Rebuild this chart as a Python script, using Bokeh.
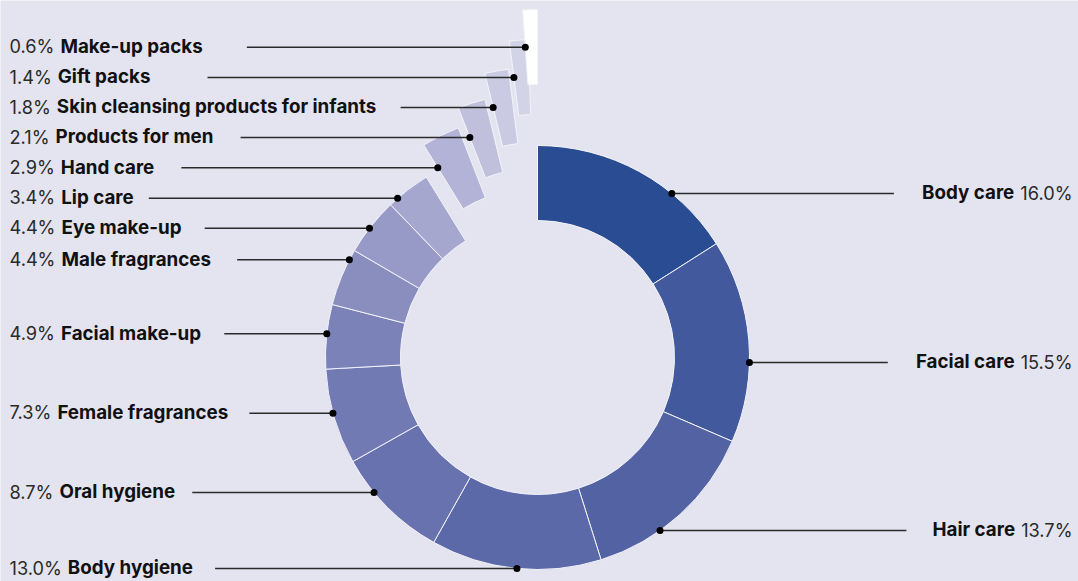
import math
import subprocess
import numpy as np
from bokeh.plotting import figure
from bokeh.models import Range1d, ColumnDataSource
from bokeh.core.properties import value
from bokeh.embed import file_html
from bokeh.resources import INLINE

# ---------------- data ----------------
categories = ["Body care", "Facial care", "Hair care", "Body hygiene", "Oral hygiene",
              "Female fragrances", "Facial make-up", "Male fragrances", "Eye make-up",
              "Lip care", "Hand care", "Products for men",
              "Skin cleansing products for infants", "Gift packs", "Make-up packs"]
shares = [16.0, 15.5, 13.7, 13.0, 8.7, 7.3, 4.9, 4.4, 4.4, 3.4, 2.9, 2.1, 1.8, 1.4, 0.6]
pct_labels = [f"{v:.1f}%" for v in shares]

# ---------------- style / layout (page pixel coordinates) ----------------
colors = ["#2a4c93", "#425a9d", "#5262a2", "#5b69a9", "#6772af", "#717ab3", "#7b82b8",
          "#898ebf", "#9799c6", "#a5a7ce", "#b2b3d6", "#c0c0dd", "#cacae3", "#d3d3e8",
          "#ffffff"]
lift_px = [0] * 10 + [32, 52, 78, 106, 136]          # pulled-out small slices
shift_x_px = [0] * 10 + [-2.5, -2.4, -2.5, -1.6, 0.0]
label_side = ["right"] * 3 + ["left"] * 12
label_line_y = [193, 362, 530, 568, 492, 412.7, 333.3, 259.3, 227.7, 197.7,
                167.3, 137, 107, 77, 46.7]
leader_gap = [28, 28, 26, 22, 17, 21, 23, 26, 23, 15, 27, 27, 24, 57, 44]

W, H = 1078, 581
BG = "#e4e4f0"
CX, CY = 537.0, 357.0      # page pixel coords (y down)
R_OUT, R_IN = 212.0, 137.0
MIN_SPAN = 4.0
FONT = "Inter"
FS_B = 18.8
FS_R = 18.2
LEFT_X = 9.0
RIGHT_X = 1072.0
TEXT_DY = -0.8             # baseline offset from leader line (empirical)


def fx(x):
    return x


def fy(y):
    return H - y


# ---------------- text measuring ----------------
def _font_path(query):
    try:
        out = subprocess.run(["fc-match", "-f", "%{file}", query],
                             capture_output=True, text=True, timeout=5).stdout.strip()
        return out or None
    except Exception:
        return None


def _make_measurer(bold, size):
    try:
        from PIL import ImageFont
        path = _font_path(f"{FONT}:weight={'bold' if bold else 'regular'}")
        f = ImageFont.truetype(path, size=100)
        try:
            axes = f.get_variation_axes()
            vals = []
            for a in axes:
                nm = a.get("name", b"")
                nm = nm.decode() if isinstance(nm, bytes) else str(nm)
                if "eight" in nm:
                    vals.append(700 if bold else 400)
                else:
                    vals.append(a.get("default", a.get("minimum", 0)))
            if vals:
                f.set_variation_by_axes(vals)
        except Exception:
            pass
        return lambda s: f.getlength(s) * size / 100.0
    except Exception:
        k = 0.62 if bold else 0.56
        return lambda s: len(s) * size * k


w_bold = _make_measurer(True, FS_B)
w_reg = _make_measurer(False, FS_R)

# ---------------- geometry ----------------
vals = np.array(shares, dtype=float)
total = vals.sum()
end_deg = np.cumsum(vals) / total * 360.0
start_deg = end_deg - vals / total * 360.0
start_deg = np.minimum(start_deg, end_deg - MIN_SPAN)

wedge_src = ColumnDataSource(dict(
    x=[fx(CX + sx) for sx in shift_x_px],
    y=[fy(CY - lf) for lf in lift_px],
    start=[math.pi / 2 - math.radians(a) for a in start_deg],
    end=[math.pi / 2 - math.radians(a) for a in end_deg],
    color=colors,
    name=categories,
))

dot_x, dot_y = [], []
line_x0, line_x1, line_y = [], [], []
pct_x, pct_align, name_x, name_align, text_y = [], [], [], [], []
for i, cat in enumerate(categories):
    ly = label_line_y[i]
    if lift_px[i] == 0:
        dy = ly - CY
        dx = math.sqrt(max(R_OUT ** 2 - dy ** 2, 0.0))
        px = CX + dx if label_side[i] == "right" else CX - dx
    else:
        th = math.radians(start_deg[i])
        r = (CY - lift_px[i] - ly) / math.cos(th)
        px = CX + shift_x_px[i] + r * math.sin(th)
    dot_x.append(fx(px))
    dot_y.append(fy(ly))
    line_y.append(fy(ly))
    text_y.append(fy(ly + TEXT_DY))
    wp = w_reg(pct_labels[i])
    wn = w_bold(cat)
    if label_side[i] == "left":
        nx0 = LEFT_X + wp + 6.0
        pct_x.append(fx(LEFT_X)); pct_align.append("left")
        name_x.append(fx(nx0)); name_align.append("left")
        line_x0.append(fx(nx0 + wn + leader_gap[i])); line_x1.append(fx(px))
    else:
        nx1 = RIGHT_X - wp - 6.0
        pct_x.append(fx(RIGHT_X)); pct_align.append("right")
        name_x.append(fx(nx1)); name_align.append("right")
        line_x0.append(fx(px)); line_x1.append(fx(nx1 - wn - leader_gap[i]))

# ---------------- figure ----------------
p = figure(width=W, height=H, x_range=Range1d(0, W), y_range=Range1d(0, H),
           output_backend="svg", toolbar_location=None, min_border=0,
           background_fill_color=BG, border_fill_color=BG, outline_line_color=None)
p.axis.visible = False
p.grid.visible = False

p.annular_wedge(x="x", y="y", inner_radius=R_IN, outer_radius=R_OUT,
                start_angle="start", end_angle="end", direction="clock",
                fill_color="color", line_color="#f3f3f9", line_width=1.0,
                source=wedge_src)

p.segment(x0=line_x0, y0=line_y, x1=line_x1, y1=line_y,
          line_color="#2a2a2a", line_width=1.6)
p.scatter(x=dot_x, y=dot_y, size=7, marker="circle",
          fill_color="#000000", line_color=None)

p.text(x="x", y="y", text="t", text_align="a", source=ColumnDataSource(dict(
    x=pct_x, y=text_y, t=pct_labels, a=pct_align)),
    text_baseline="alphabetic", text_font=value(FONT), text_font_size=f"{FS_R}px",
    text_font_style="normal", text_color="#2a2a2a")
p.text(x="x", y="y", text="t", text_align="a", source=ColumnDataSource(dict(
    x=name_x, y=text_y, t=categories, a=name_align)),
    text_baseline="alphabetic", text_font=value(FONT), text_font_size=f"{FS_B}px",
    text_font_style="bold", text_color="#111111")

open("out.html", "w").write(file_html(p, INLINE))
